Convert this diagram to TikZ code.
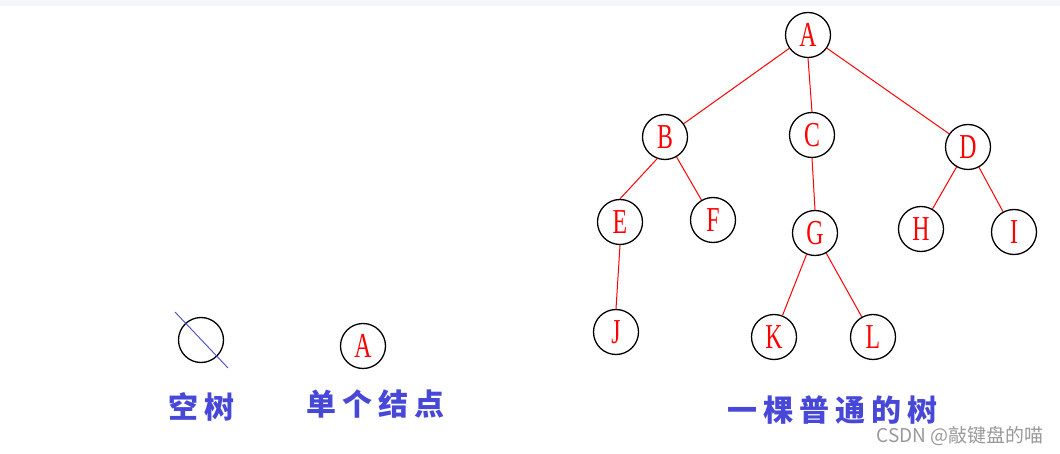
\documentclass[tikz,border=0pt]{standalone}
\usepackage{fontspec}
\setmainfont{Liberation Serif}
\newfontfamily\cjk{Noto Sans CJK SC}
\definecolor{lblue}{HTML}{4848D8}
\definecolor{topgray}{HTML}{F5F6F7}
\newcommand{\lt}[1]{\scalebox{0.68}[1]{#1}}
\begin{document}
\begin{tikzpicture}[x=1pt,y=-1pt,
  tn/.style={circle,draw=black,line width=1.3pt,minimum size=45pt,inner sep=0pt,
    text=red,font=\fontsize{35}{35}\selectfont},
  ed/.style={draw=red,line width=1pt},
  capt/.style={text=lblue,font=\cjk\bfseries\fontsize{30}{30}\selectfont},
  wm/.style={text=gray!80,font=\cjk\fontsize{19}{19}\selectfont}]
\useasboundingbox (0,0) rectangle (1060,454);
\fill[topgray] (0,0) rectangle (1060,6);
\node[tn] (A) at (808,35) {\lt{A}};
\node[tn] (B) at (665,137) {\lt{B}};
\node[tn] (C) at (812,135) {\lt{C}};
\node[tn] (D) at (968,147) {\lt{D}};
\node[tn] (E) at (620,222) {\lt{E}};
\node[tn] (F) at (713,220) {\lt{F}};
\node[tn] (G) at (815,233) {\lt{G}};
\node[tn] (H) at (921,229) {\lt{H}};
\node[tn] (I) at (1014,232) {\lt{I}};
\node[tn] (J) at (616,332) {\lt{J}};
\node[tn] (K) at (774,337) {\lt{K}};
\node[tn] (L) at (873,337) {\lt{L}};
\node[tn] (S) at (363,346) {\lt{A}};
\node[tn] (N) at (201,340) {};
\coordinate (n1) at (175,312);
\coordinate (n2) at (228,368);
\draw[draw=lblue,line width=0.9pt] (n1) -- (n2);
\draw[ed] (A) -- (B);
\draw[ed] (A.south) -- (C.north);
\draw[ed] (A) -- (D);
\draw[ed] (B.250) -- (E.north);
\draw[ed] (B) -- (F);
\draw[ed] (C.south) -- (G.north);
\draw[ed] (D) -- (H);
\draw[ed] (D) -- (I);
\draw[ed] (E.south) -- (J.north);
\draw[ed] (G) -- (K);
\draw[ed] (G) -- (L);
\node[capt] (c1) at (201,407) {空\hspace{6pt}树};
\node[capt] (c2) at (375,404) {单\hspace{6pt}个\hspace{6pt}结\hspace{6pt}点};
\node[capt] (c3) at (832,410) {一\hspace{6pt}棵\hspace{6pt}普\hspace{6pt}通\hspace{6pt}的\hspace{6pt}树};
\node[wm,anchor=east] (w) at (1047,436) {CSDN @敲键盘的喵};
\end{tikzpicture}
\end{document}
